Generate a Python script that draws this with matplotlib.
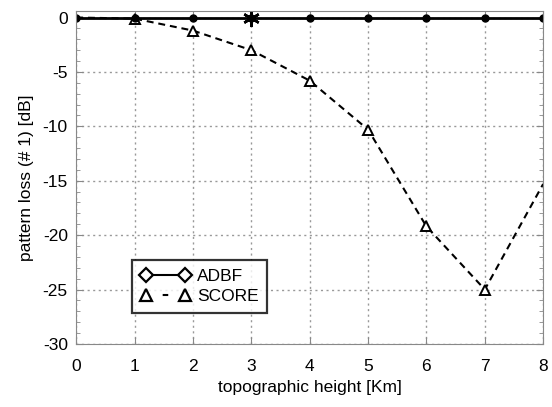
import numpy as np
import matplotlib
matplotlib.use('Agg')
import matplotlib.pyplot as plt
from matplotlib.ticker import MultipleLocator

plt.rcParams['font.family'] = ['Liberation Sans', 'DejaVu Sans']
plt.rcParams['axes.unicode_minus'] = False
plt.rcParams['lines.scale_dashes'] = False

# 数据
height = [0, 1, 2, 3, 4, 5, 6, 7, 8]
adbf = [0, 0, 0, 0, 0, 0, 0, 0, 0]
score = [0, -0.1, -1.2, -3.0, -5.8, -10.3, -19.2, -25.0, -15.3]
star_x = [3]
star_y = [0]

fig = plt.figure(figsize=(5.52, 4.07), dpi=100)
ax = fig.add_axes([0.138, 0.155, 0.846, 0.818])

ax.plot(height, score, color='black', linewidth=1.5, linestyle=(0, (5, 3.5)))
ax.plot(height[1:8], score[1:8], '^', color='black', markerfacecolor='white',
        markersize=7, markeredgewidth=1.4, linestyle='none')
ax.plot(height, adbf, '-', color='black', linewidth=2)
ax.plot(height, adbf, 'o', color='black', markersize=5, linestyle='none')
ax.plot(star_x, star_y, marker=(6, 2, 0), color='black', markersize=12,
        markeredgewidth=1.8, linestyle='none')

ax.set_xlim(0, 8)
ax.set_ylim(-30, 0.6)
ax.set_xticks(range(0, 9))
ax.set_yticks([0, -5, -10, -15, -20, -25, -30])
ax.yaxis.set_minor_locator(MultipleLocator(1))
ax.tick_params(axis='both', labelsize=12.5, length=5, color='#888888',
               direction='in', top=True, right=True)
ax.tick_params(axis='y', which='minor', length=3, color='#888888',
               direction='in', right=True)
ax.tick_params(axis='x', pad=11)
ax.tick_params(axis='y', pad=6)
ax.grid(True, linestyle=(0, (1.5, 2.5)), color='#999999', linewidth=1)
for s in ax.spines.values():
    s.set_color('#888888')

ax.set_xlabel('topographic height [Km]', fontsize=12.5, labelpad=4)
ax.set_ylabel('pattern loss (# 1) [dB]', fontsize=12.5, labelpad=6)

# 图例
h1, = ax.plot([], [], '-', color='black', marker='D', markerfacecolor='white',
              markersize=7, markeredgewidth=1.6, linewidth=1.5)
h2, = ax.plot([], [], color='black', marker='^', markerfacecolor='white',
              markersize=8, markeredgewidth=1.6, linewidth=1.5,
              linestyle=(0, (0.01, 12, 4, 40)))
leg = ax.legend([h1, h2], ['ADBF', 'SCORE'], loc='lower left',
                bbox_to_anchor=(0.12, 0.093), fontsize=12.5, frameon=True,
                fancybox=False, edgecolor='black', handlelength=2.84,
                numpoints=2, borderpad=0.5, labelspacing=0.3,
                handletextpad=0.4, borderaxespad=0)
leg.get_frame().set_linewidth(1.6)

fig.savefig('out.png', dpi=100)
